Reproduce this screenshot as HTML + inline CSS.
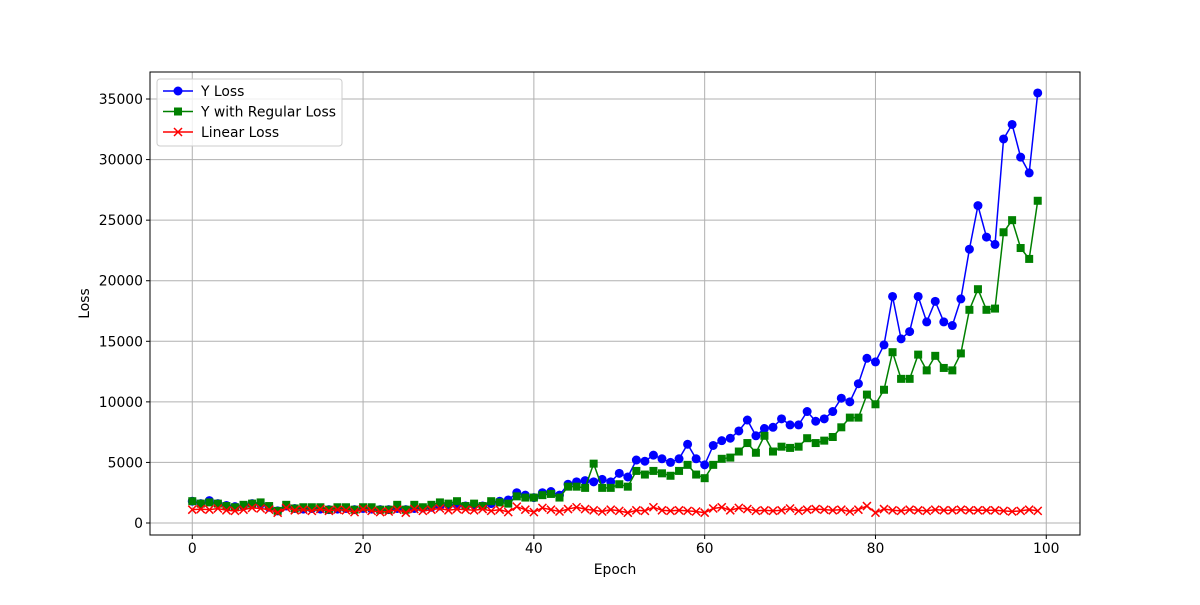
<!DOCTYPE html>
<html><head><meta charset="utf-8"><style>
body{margin:0;background:#fff}
svg text{font-family:"DejaVu Sans","Liberation Sans",sans-serif}
</style></head><body>
<svg id="c" width="1200" height="600" xmlns="http://www.w3.org/2000/svg"></svg>
<script>
const epochs=[...Array(100).keys()];
const yLoss=[1800,1600,1850,1600,1450,1350,1400,1600,1550,1300,1000,1400,1200,1150,1200,1150,1100,1150,1200,1100,1200,1150,1100,1100,1200,1100,1200,1250,1300,1400,1500,1500,1400,1500,1400,1600,1800,1900,2500,2300,2100,2500,2600,2300,3200,3400,3500,3400,3600,3400,4100,3800,5200,5100,5600,5300,5000,5300,6500,5300,4800,6400,6800,7000,7600,8500,7200,7800,7900,8600,8100,8100,9200,8400,8600,9200,10300,10000,11500,13600,13300,14700,18700,15200,15800,18700,16600,18300,16600,16300,18500,22600,26200,23600,23000,31700,32900,30200,28900,35500];
const yRegLoss=[1800,1600,1700,1600,1400,1300,1500,1600,1700,1400,1000,1500,1200,1300,1300,1300,1100,1300,1300,1100,1300,1300,1100,1100,1500,1100,1500,1300,1500,1700,1600,1800,1400,1600,1400,1800,1700,1600,2200,2100,2100,2300,2400,2100,3000,3000,2900,4900,2900,2900,3200,3000,4300,4000,4300,4100,3900,4300,4800,4000,3700,4800,5300,5400,5900,6600,5800,7200,5900,6300,6200,6300,7000,6600,6800,7100,7900,8700,8700,10600,9800,11000,14100,11900,11900,13900,12600,13800,12800,12600,14000,17600,19300,17600,17700,24000,25000,22700,21800,26600];
const linLoss=[1100,1150,1100,1200,1050,1000,1100,1250,1200,1100,850,1250,1050,1100,1000,1150,1000,1100,1050,900,1150,1000,900,950,1100,850,1150,1000,1100,1200,1050,1150,1100,1050,1150,1000,1100,900,1350,1100,900,1250,1100,950,1150,1300,1150,1050,950,1100,1000,850,1050,1000,1300,1050,1000,1050,1000,950,850,1200,1300,1050,1250,1150,1000,1050,1000,1050,1200,1000,1100,1150,1100,1050,1100,950,1100,1400,850,1150,1050,1000,1100,1050,1000,1100,1050,1050,1100,1050,1050,1050,1050,1000,950,1000,1100,1000];
const xTicks=[0,20,40,60,80,100];
const yTicks=[0,5000,10000,15000,20000,25000,30000,35000];
const L=150,R=1080,T=72,B=535,x0=-4.95,x1=103.95,y0=-990,y1=37230;
const X=v=>L+(v-x0)/(x1-x0)*(R-L), Y=v=>B-(v-y0)/(y1-y0)*(B-T);
const svg=document.getElementById('c');const NS='http://www.w3.org/2000/svg';
function el(t,a,p){const e=document.createElementNS(NS,t);for(const k in a)e.setAttribute(k,a[k]);(p||svg).appendChild(e);return e;}
const FS=13.9;
const grid=el('g',{});
xTicks.forEach(t=>{el('line',{x1:X(t),x2:X(t),y1:T,y2:B,stroke:'#b0b0b0','stroke-width':1},grid);
 el('line',{x1:X(t),x2:X(t),y1:B,y2:B+4,stroke:'#000'});
 const tx=el('text',{x:X(t),y:B+18,'text-anchor':'middle','font-size':FS});tx.textContent=t;
 });
yTicks.forEach(t=>{el('line',{x1:L,x2:R,y1:Y(t),y2:Y(t),stroke:'#b0b0b0','stroke-width':1},grid);
 el('line',{x1:L-4,x2:L,y1:Y(t),y2:Y(t),stroke:'#000'});
 const tx=el('text',{x:L-7,y:Y(t)+5,'text-anchor':'end','font-size':FS});tx.textContent=t;
 });
function series(data,color,marker,name){
 const g=el('g',{});
 el('polyline',{points:data.map((v,i)=>X(epochs[i])+','+Y(v)).join(' '),fill:'none',stroke:color,'stroke-width':1.5},g);
 data.forEach((v,i)=>{const cx=X(epochs[i]),cy=Y(v);
  if(marker==='o')el('circle',{cx,cy,r:4.5,fill:color},g);
  else if(marker==='s')el('rect',{x:cx-4,y:cy-4,width:8,height:8,fill:color},g);
  else el('path',{d:`M${cx-4},${cy-4}L${cx+4},${cy+4}M${cx-4},${cy+4}L${cx+4},${cy-4}`,stroke:color,'stroke-width':1.5},g);});
}
series(yLoss,'#0000ff','o','y-loss-series');
series(yRegLoss,'#008000','s','y-regular-loss-series');
series(linLoss,'#ff0000','x','linear-loss-series');
el('rect',{x:L,y:T,width:R-L,height:B-T,fill:'none',stroke:'#000','stroke-width':1});
let t=el('text',{x:(L+R)/2,y:574,'text-anchor':'middle','font-size':FS});t.textContent='Epoch';
t=el('text',{x:89,y:(T+B)/2,'text-anchor':'middle','font-size':FS,transform:`rotate(-90 89 ${(T+B)/2})`});t.textContent='Loss';
const lg=el('g',{});
el('rect',{x:157,y:79,width:185,height:67,rx:3,fill:'#fff','fill-opacity':0.8,stroke:'#ccc'},lg);
[['Y Loss','#0000ff','o'],['Y with Regular Loss','#008000','s'],['Linear Loss','#ff0000','x']].forEach((d,i)=>{
 const cy=91+i*20.5,cx=178;
 el('line',{x1:163,x2:193,y1:cy,y2:cy,stroke:d[1],'stroke-width':1.5},lg);
 if(d[2]==='o')el('circle',{cx,cy,r:4.5,fill:d[1]},lg);
 else if(d[2]==='s')el('rect',{x:cx-4,y:cy-4,width:8,height:8,fill:d[1]},lg);
 else el('path',{d:`M${cx-4},${cy-4}L${cx+4},${cy+4}M${cx-4},${cy+4}L${cx+4},${cy-4}`,stroke:d[1],'stroke-width':1.5},lg);
 const tx=el('text',{x:201,y:cy+5,'font-size':FS},lg);tx.textContent=d[0];
 });
</script>
</body></html>
